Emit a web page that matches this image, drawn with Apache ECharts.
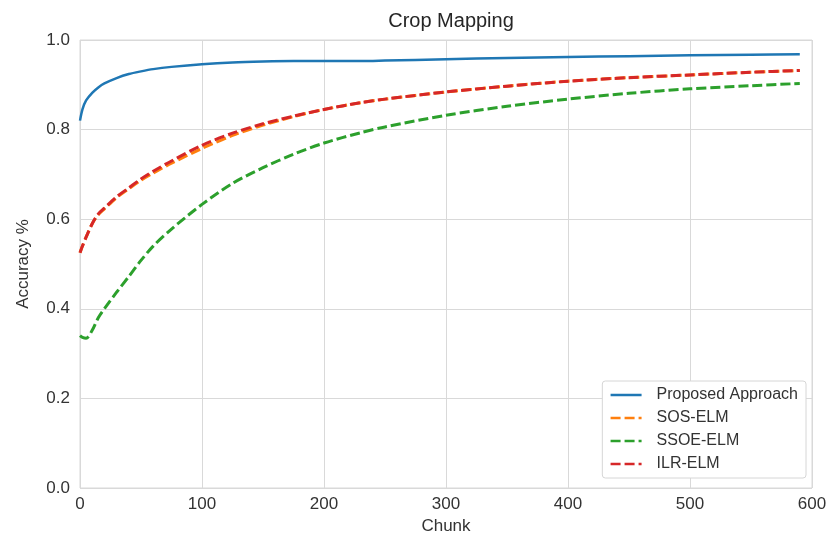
<!DOCTYPE html>
<html>
<head>
<meta charset="utf-8">
<script src="https://cdn.jsdelivr.net/npm/echarts@6/dist/echarts.min.js"></script>
<style>
  html, body { margin: 0; padding: 0; background: #fff; }
  #chart { width: 832px; height: 545px; }
</style>
</head>
<body>
<div id="chart"></div>
<script>
// chunk positions (x)
const chunks = [0, 2, 5, 10, 15, 20, 30, 40, 50, 60, 75, 100, 125, 150, 175, 200, 230, 250, 300, 350, 400, 450, 500, 550, 590];

const proposed = [0.82, 0.845, 0.865, 0.882, 0.894, 0.903, 0.915, 0.924, 0.93, 0.935, 0.94, 0.946, 0.95, 0.952, 0.953, 0.953, 0.953, 0.954, 0.957, 0.96, 0.962, 0.964, 0.966, 0.967, 0.968];
const sosElm = [0.525, 0.54, 0.56, 0.59, 0.61, 0.623, 0.648, 0.668, 0.687, 0.703, 0.725, 0.758, 0.787, 0.81, 0.829, 0.845, 0.86, 0.868, 0.884, 0.897, 0.908, 0.916, 0.922, 0.928, 0.932];
const ssoeElm = [0.34, 0.336, 0.334, 0.352, 0.38, 0.40, 0.437, 0.472, 0.508, 0.54, 0.578, 0.633, 0.68, 0.715, 0.745, 0.77, 0.793, 0.806, 0.832, 0.852, 0.868, 0.881, 0.891, 0.898, 0.903];
const ilrElm = [0.525, 0.54, 0.56, 0.59, 0.612, 0.625, 0.65, 0.67, 0.69, 0.707, 0.73, 0.765, 0.792, 0.813, 0.83, 0.845, 0.86, 0.868, 0.884, 0.897, 0.908, 0.916, 0.922, 0.928, 0.932];

const xTicks = [0, 100, 200, 300, 400, 500, 600];
const yTicks = [0.0, 0.2, 0.4, 0.6, 0.8, 1.0];

const font = "Liberation Sans";
const chart = echarts.init(document.getElementById("chart"));

function pairs(values) {
  return chunks.map((c, i) => [c, values[i]]);
}

function lineSeries(name, values, color, dashed) {
  return {
    name: name,
    type: "line",
    smooth: 0.3,
    showSymbol: false,
    symbol: "none",
    lineStyle: {
      color: color,
      width: dashed ? 3 : 2.5,
      type: dashed ? [10, 4] : "solid",
    },
    itemStyle: { color: color },
    data: pairs(values),
  };
}

const option = {
  backgroundColor: "#fff",
  animation: false,
  title: {
    text: "Crop Mapping",
    left: 446,
    top: 6,
    textAlign: "center",
    textStyle: { fontFamily: font, fontSize: 20, fontWeight: "normal", color: "#262626" },
  },
  legend: {
    orient: "vertical",
    right: 26,
    bottom: 67,
    padding: [6, 8, 6, 7],
    itemGap: 7,
    itemWidth: 31,
    itemHeight: 16,
    backgroundColor: "#fff",
    borderColor: "#d6d6d6",
    borderWidth: 1,
    borderRadius: 3,
    itemStyle: { opacity: 0 },
    lineStyle: { width: 2.5 },
    textStyle: { fontFamily: font, fontSize: 16, color: "#333", padding: [0, 0, 0, 10] },
    data: ["Proposed Approach", "SOS-ELM", "SSOE-ELM", "ILR-ELM"],
  },
  grid: {
    left: 80,
    right: 20,
    top: 40,
    bottom: 57,
    show: true,
    borderColor: "#d9d9d9",
    borderWidth: 1,
  },
  xAxis: {
    type: "value",
    min: xTicks[0],
    max: xTicks[xTicks.length - 1],
    interval: 100,
    name: "Chunk",
    nameLocation: "middle",
    nameGap: 30,
    nameTextStyle: { fontFamily: font, fontSize: 17, color: "#333" },
    axisLine: { show: false },
    axisTick: { show: false },
    axisLabel: { fontFamily: font, fontSize: 17, color: "#333", margin: 8 },
    splitLine: { lineStyle: { color: "#d9d9d9", width: 1 } },
  },
  yAxis: {
    type: "value",
    min: yTicks[0],
    max: yTicks[yTicks.length - 1],
    interval: 0.2,
    name: "Accuracy %",
    nameLocation: "middle",
    nameGap: 48,
    nameTextStyle: { fontFamily: font, fontSize: 17, color: "#333" },
    axisLine: { show: false },
    axisTick: { show: false },
    axisLabel: {
      fontFamily: font,
      fontSize: 17,
      color: "#333",
      margin: 10,
      formatter: (v) => v.toFixed(1),
    },
    splitLine: { lineStyle: { color: "#d9d9d9", width: 1 } },
  },
  series: [
    lineSeries("Proposed Approach", proposed, "#1f77b4", false),
    lineSeries("SOS-ELM", sosElm, "#ff7f0e", true),
    lineSeries("SSOE-ELM", ssoeElm, "#2ca02c", true),
    lineSeries("ILR-ELM", ilrElm, "#d62728", true),
  ],
};

chart.setOption(option);
</script>
</body>
</html>
